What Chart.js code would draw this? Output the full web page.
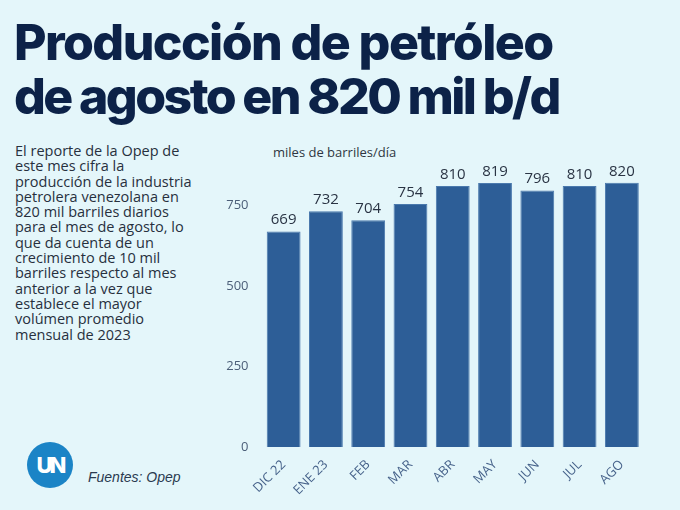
<!DOCTYPE html>
<html>
<head>
<meta charset="utf-8">
<script src="https://cdn.jsdelivr.net/npm/chart.js@4"></script>
<style>
  body {
    margin: 0;
    width: 680px;
    height: 510px;
    background: #e4f6fa;
    position: relative;
    overflow: hidden;
    font-family: "Open Sans", sans-serif;
  }
  #title {
    position: absolute;
    left: 14px;
    top: 15px;
    font-family: Inter, sans-serif;
    font-weight: 800;
    font-size: 50px;
    line-height: 54px;
    letter-spacing: -1.6px;
    color: #0c2248;
  }
  #title .l2 {
    letter-spacing: -2.6px;
  }
  #text {
    position: absolute;
    left: 15px;
    top: 143px;
    font-size: 14.5px;
    line-height: 15.3px;
    color: #27303e;
  }
  #unit {
    position: absolute;
    left: 273px;
    top: 143px;
    font-size: 13px;
    color: #2f3642;
  }
  #logo {
    position: absolute;
    left: 27px;
    top: 442px;
    width: 46px;
    height: 46px;
    border-radius: 50%;
    background: #1b84c6;
    color: #fff;
    font-family: Inter, sans-serif;
    font-weight: 800;
    font-size: 22px;
    line-height: 46px;
    text-align: center;
    letter-spacing: -3px;
  }
  #source {
    position: absolute;
    left: 88px;
    top: 469px;
    font-family: "Liberation Sans", sans-serif;
    font-style: italic;
    font-size: 14px;
    color: #2a3a50;
  }
  #wrap {
    position: absolute;
    left: 220px;
    top: 130px;
    width: 440px;
    height: 380px;
  }
</style>
</head>
<body>

<div id="title">Producción de petróleo<br><span class="l2">de agosto en 820 mil b/d</span></div>

<div id="text">
El reporte de la Opep de<br>
este mes cifra la<br>
producción de la industria<br>
petrolera venezolana en<br>
820 mil barriles diarios<br>
para el mes de agosto, lo<br>
que da cuenta de un<br>
crecimiento de 10 mil<br>
barriles respecto al mes<br>
anterior a la vez que<br>
establece el mayor<br>
volúmen promedio<br>
mensual de 2023
</div>

<div id="unit">miles de barriles/día</div>

<div id="logo">UN</div>
<div id="source">Fuentes: Opep</div>

<div id="wrap"><canvas id="chart"></canvas></div>

<script>
// ==========================
// DATA
// ==========================

const months = [
    "DIC 22", "ENE 23", "FEB", "MAR", "ABR",
    "MAY", "JUN", "JUL", "AGO"
];

const production = [
    669, 732, 704, 754, 810,
    819, 796, 810, 820
];

const yTicks = [0, 250, 500, 750];

// ==========================
// VALUE LABELS ON BARS
// ==========================

const valueLabels = {
    id: "valueLabels",
    afterDatasetsDraw(chart) {
        const ctx = chart.ctx;
        const meta = chart.getDatasetMeta(0);
        ctx.save();
        ctx.font = "15px 'Open Sans'";
        ctx.fillStyle = "#2a3444";
        ctx.textAlign = "center";
        ctx.textBaseline = "bottom";
        meta.data.forEach((bar, i) => {
            ctx.fillText(
                production[i],
                bar.x,
                bar.y - 4
            );
        });
        ctx.restore();
    }
};

// ==========================
// BAR CHART
// ==========================

new Chart(document.getElementById("chart"), {
    type: "bar",
    data: {
        labels: months,
        datasets: [{
            data: production,
            backgroundColor: "#2d5e97",
            borderColor: "#4a79ad",
            borderWidth: 1,
            barPercentage: 0.8,
            categoryPercentage: 1
        }]
    },
    plugins: [valueLabels],
    options: {
        responsive: true,
        maintainAspectRatio: false,
        animation: false,
        layout: {
            padding: { top: 27, right: 17, left: 0, bottom: 0 }
        },
        plugins: {
            legend: { display: false },
            tooltip: { enabled: false }
        },
        scales: {
            x: {
                grid: { display: false },
                border: { display: false },
                ticks: {
                    minRotation: 45,
                    maxRotation: 45,
                    padding: 2,
                    color: "#46628a",
                    font: { family: "Open Sans", size: 13 }
                },
                afterFit(scale) {
                    scale.height = 63;
                }
            },
            y: {
                min: 0,
                max: 900,
                grid: { display: false },
                border: { display: false },
                afterBuildTicks(scale) {
                    scale.ticks = yTicks.map(v => ({ value: v }));
                },
                ticks: {
                    padding: 6,
                    color: "#4b5e78",
                    font: { family: "Open Sans", size: 13 }
                },
                afterFit(scale) {
                    scale.width = 42.5;
                }
            }
        }
    }
});
</script>
</body>
</html>
